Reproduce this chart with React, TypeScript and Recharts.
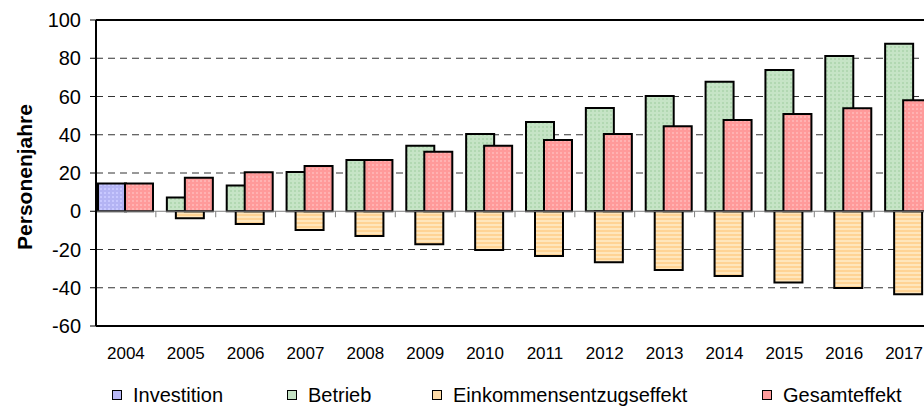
import React from 'react';
import {
    BarChart, Bar, XAxis, YAxis, CartesianGrid, ReferenceLine, Label,
} from 'recharts';

// years on the category axis
const years = ['2004', '2005', '2006', '2007', '2008', '2009', '2010', '2011', '2012', '2013', '2014', '2015', '2016', '2017'];

// Personenjahre per year
const investition: (number | null)[] = [14.5, null, null, null, null, null, null, null, null, null, null, null, null, null];
const betrieb: (number | null)[] = [null, 7.2, 13.4, 20.5, 26.8, 34.3, 40.4, 46.7, 54.0, 60.3, 67.7, 73.9, 81.2, 87.6];
const einkommensentzug: (number | null)[] = [null, -3.7, -6.7, -9.8, -12.9, -17.3, -20.3, -23.4, -26.7, -30.7, -33.9, -37.2, -40.1, -43.4];
const gesamteffekt: number[] = [14.5, 17.5, 20.4, 23.7, 26.8, 31.1, 34.3, 37.3, 40.4, 44.5, 47.7, 50.8, 53.8, 58.0];

const yTicks = [-60, -40, -20, 0, 20, 40, 60, 80, 100];
const gridValues = [-40, -20, 20, 40, 60, 80];

const data = years.map((year, i) => ({
    year,
    investition: investition[i],
    betrieb: betrieb[i],
    einkommensentzug: einkommensentzug[i],
    gesamteffekt: gesamteffekt[i],
}));

const FONT = '"Liberation Sans", Arial, sans-serif';

const legendItems = [
    { label: 'Investition', color: '#b8b8f6', left: 104 },
    { label: 'Betrieb', color: '#c4e2c4', left: 279 },
    { label: 'Einkommensentzugseffekt', color: '#ffdca8', left: 424 },
    { label: 'Gesamteffekt', color: '#ff9c9c', left: 754 },
];

const YearTick = ({ x, y, payload }: any) => (
    <text x={x} y={y} dy={33} textAnchor="middle" fontSize={17} fill="#000" fontFamily={FONT}>
        {payload.value}
    </text>
);

// zero line with small tick marks on the category borders
const ZeroLine = (props: any) => {
    const { x1, y1, x2 } = props;
    const n = years.length;
    const step = (x2 - x1) / n;
    return (
        <g>
            <line x1={x1} y1={y1} x2={x2} y2={y1} stroke="#808080" strokeWidth={1} />
            {years.slice(1).map((_, i) => (
                <line key={i} x1={x1 + step * (i + 1)} y1={y1} x2={x1 + step * (i + 1)} y2={y1 + 6} stroke="#808080" strokeWidth={1} />
            ))}
        </g>
    );
};

export default function App() {
    return (
        <div style={{ position: 'relative', width: 924, height: 407, overflow: 'hidden', fontFamily: FONT, background: '#fff' }}>
            {/* the chart is cut off on the right in the original, so the page itself must not add margins */}
            <style>{'html,body{margin:0;padding:0;overflow:hidden}'}</style>
            <div style={{ position: 'absolute', left: 8, top: 8, width: 916, height: 399 }}>
                <BarChart
                    width={938}
                    height={372}
                    data={data}
                    margin={{ top: 12, right: 12, left: 0, bottom: 0 }}
                    barSize={28}
                    barGap={-19}
                >
                    <defs>
                        <pattern id="pInv" width="4" height="4" patternUnits="userSpaceOnUse">
                            <rect width="4" height="4" fill="#b4b4f4" />
                            <rect width="2" height="2" fill="#c8c8ff" />
                        </pattern>
                        <pattern id="pBet" width="4" height="4" patternUnits="userSpaceOnUse">
                            <rect width="4" height="4" fill="#c6e4c6" />
                            <rect x="2" y="2" width="2" height="2" fill="#b2d8b2" />
                        </pattern>
                        <pattern id="pEin" width="4" height="4" patternUnits="userSpaceOnUse">
                            <rect width="4" height="4" fill="#ffe6bc" />
                            <rect y="2" width="4" height="2" fill="#ffd394" />
                        </pattern>
                        <pattern id="pGes" width="4" height="4" patternUnits="userSpaceOnUse">
                            <rect width="4" height="4" fill="#ff9a9a" />
                            <rect width="2" height="2" fill="#ffb2b2" />
                        </pattern>
                    </defs>
                    <CartesianGrid
                        horizontal
                        vertical={false}
                        horizontalValues={gridValues}
                        stroke="#333"
                        strokeDasharray="7 5"
                    />
                    <XAxis
                        dataKey="year"
                        axisLine={false}
                        tickLine={false}
                        tickSize={0}
                        tickMargin={0}
                        height={54}
                        interval={0}
                        tick={<YearTick />}
                    />
                    <YAxis
                        type="number"
                        domain={[-60, 100]}
                        ticks={yTicks}
                        interval={0}
                        width={88}
                        axisLine={{ stroke: '#000', strokeWidth: 2 }}
                        tickLine={{ stroke: '#000' }}
                        tickSize={6}
                        tickMargin={9}
                        tick={{ fontSize: 20, fill: '#000', fontFamily: FONT }}
                    >
                        <Label
                            value="Personenjahre"
                            angle={-90}
                            position="center"
                            dx={-27}
                            dy={4}
                            style={{ fontSize: 21, fontWeight: 700, fill: '#000', fontFamily: FONT, textAnchor: 'middle' }}
                        />
                    </YAxis>
                    <ReferenceLine y={0} shape={<ZeroLine />} />
                    <Bar dataKey="investition" fill="url(#pInv)" stroke="#000" strokeWidth={2} isAnimationActive={false} />
                    <Bar dataKey="betrieb" fill="url(#pBet)" stroke="#000" strokeWidth={2} isAnimationActive={false} />
                    <Bar dataKey="einkommensentzug" fill="url(#pEin)" stroke="#000" strokeWidth={2} isAnimationActive={false} />
                    <Bar dataKey="gesamteffekt" fill="url(#pGes)" stroke="#000" strokeWidth={2} isAnimationActive={false} />
                    <ReferenceLine y={100} stroke="#000" strokeWidth={2} />
                    <ReferenceLine y={-60} stroke="#000" strokeWidth={2} />
                </BarChart>
                {legendItems.map((item) => (
                    <div
                        key={item.label}
                        style={{
                            position: 'absolute',
                            left: item.left,
                            top: 376,
                            display: 'flex',
                            alignItems: 'center',
                            fontSize: 20,
                            color: '#000',
                            whiteSpace: 'nowrap',
                            lineHeight: '22px',
                        }}
                    >
                        <span
                            style={{
                                display: 'inline-block',
                                width: 8,
                                height: 8,
                                border: '1px solid #000',
                                background: item.color,
                                marginRight: 11,
                            }}
                        />
                        {item.label}
                    </div>
                ))}
            </div>
        </div>
    );
}
